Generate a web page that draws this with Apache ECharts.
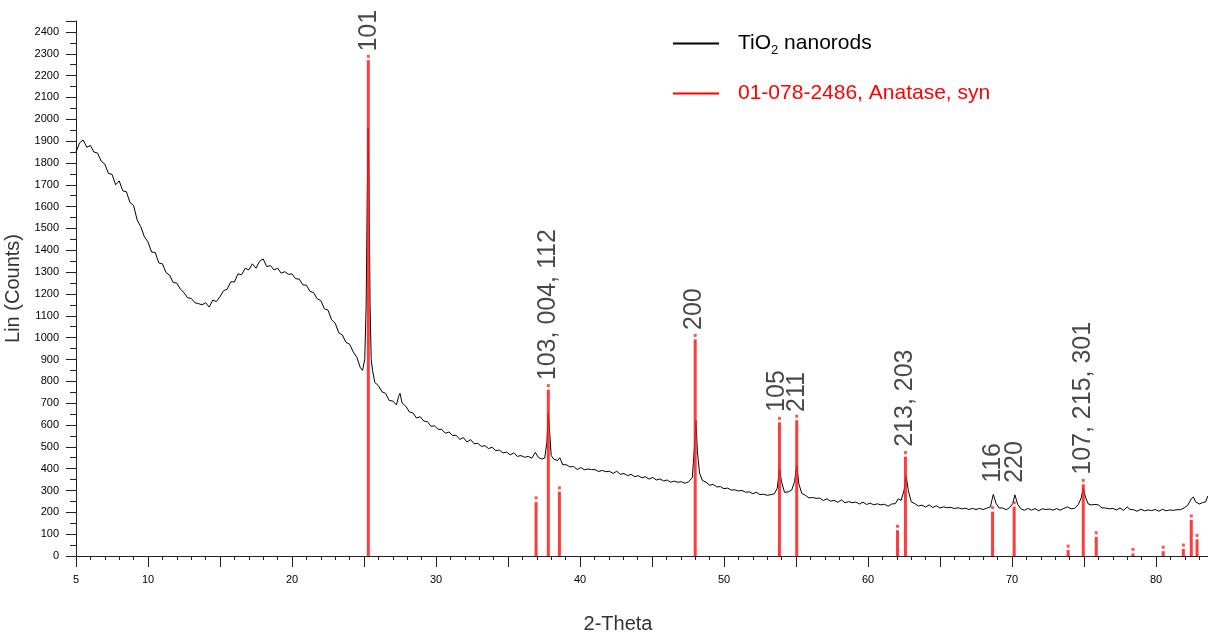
<!DOCTYPE html>
<html>
<head>
<meta charset="utf-8">
<script src="https://cdn.jsdelivr.net/npm/echarts@6/dist/echarts.min.js"></script>
<style>html,body{margin:0;padding:0;background:#fff;}#chart{width:1208px;height:634px;}</style>
</head>
<body>
<div id="chart"></div>
<script>
// Measured XRD pattern of TiO2 nanorods (2-Theta, counts)
const scanTheta = [
5.0,5.25,5.5,5.75,6.0,6.25,6.5,6.75,7.0,7.25,7.5,7.75,8.0,8.25,8.5,8.75,9.0,9.25,9.5,9.75,
10.0,10.25,10.5,10.75,11.0,11.25,11.5,11.75,12.0,12.25,12.5,12.75,13.0,13.25,13.5,13.75,14.0,14.25,14.5,14.75,
15.0,15.25,15.5,15.75,16.0,16.25,16.5,16.75,17.0,17.25,17.5,17.75,18.0,18.25,18.5,18.75,19.0,19.25,19.5,19.75,
20.0,20.25,20.5,20.75,21.0,21.25,21.5,21.75,22.0,22.25,22.5,22.75,23.0,23.25,23.5,23.75,24.0,24.25,24.5,24.75,
24.9,25.05,25.15,25.22,25.28,25.35,25.42,25.5,25.6,25.75,26.0,26.25,26.5,26.75,27.0,27.25,27.4,27.5,27.65,27.9,
28.15,28.4,28.65,28.9,29.15,29.4,29.65,29.9,30.15,30.4,30.65,30.9,31.15,31.4,31.65,31.9,32.15,32.4,32.65,32.9,
33.15,33.4,33.65,33.9,34.15,34.4,34.65,34.9,35.15,35.4,35.65,35.9,36.15,36.4,36.65,36.9,37.1,37.35,37.55,37.7,
37.8,37.9,38.0,38.2,38.45,38.6,38.8,39.05,39.3,39.55,39.8,40.05,40.3,40.55,40.8,41.05,41.3,41.55,41.8,42.05,
42.3,42.55,42.8,43.05,43.3,43.55,43.8,44.05,44.3,44.55,44.8,45.05,45.3,45.55,45.8,46.05,46.3,46.55,46.8,47.05,
47.3,47.55,47.8,47.95,48.05,48.15,48.3,48.5,48.75,49.0,49.25,49.5,49.75,50.0,50.25,50.5,50.75,51.0,51.25,51.5,
51.75,52.0,52.25,52.5,52.75,53.0,53.25,53.5,53.7,53.85,54.0,54.2,54.45,54.7,54.9,55.05,55.2,55.4,55.65,55.9,
56.15,56.4,56.65,56.9,57.15,57.4,57.65,57.9,58.15,58.4,58.65,58.9,59.15,59.4,59.65,59.9,60.15,60.4,60.65,60.9,
61.15,61.4,61.65,61.9,62.1,62.3,62.5,62.65,62.8,63.0,63.25,63.5,63.75,64.0,64.25,64.5,64.75,65.0,65.25,65.5,
65.75,66.0,66.25,66.5,66.75,67.0,67.25,67.5,67.75,68.0,68.25,68.5,68.7,68.9,69.1,69.35,69.6,69.85,70.05,70.2,
70.4,70.6,70.85,71.1,71.35,71.6,71.85,72.1,72.35,72.6,72.85,73.1,73.35,73.6,73.85,74.1,74.35,74.6,74.8,74.95,
75.1,75.3,75.5,75.75,76.0,76.25,76.5,76.75,77.0,77.25,77.5,77.75,78.0,78.2,78.45,78.7,78.95,79.2,79.45,79.7,
79.95,80.2,80.45,80.7,80.95,81.2,81.45,81.7,81.95,82.2,82.45,82.6,82.75,83.0,83.25,83.45,83.6
];
const scanCounts = [
1850,1892,1905,1872,1880,1850,1845,1808,1795,1752,1748,1700,1718,1672,1668,1618,1605,1538,1508,1462,
1438,1392,1390,1342,1338,1298,1286,1252,1250,1222,1206,1182,1180,1160,1156,1150,1160,1140,1172,1165,
1188,1215,1222,1256,1255,1292,1288,1318,1310,1338,1318,1350,1360,1325,1330,1310,1318,1295,1302,1290,
1292,1270,1268,1242,1240,1212,1206,1178,1170,1132,1126,1082,1066,1022,1012,978,970,935,910,862,
850,900,1150,1600,1960,1700,1150,900,848,795,780,752,745,712,710,692,730,745,700,686,
660,655,632,638,618,615,594,596,580,580,562,568,552,553,534,542,522,533,514,516,
502,505,492,498,482,485,472,476,463,472,456,460,452,456,448,475,452,444,448,520,
655,560,460,442,438,450,418,418,408,410,396,405,395,398,396,395,387,392,386,388,
378,388,374,378,368,374,363,368,358,363,352,360,348,353,344,348,338,343,338,340,
333,340,360,500,620,480,380,346,338,324,328,316,318,308,311,302,303,298,300,292,
294,285,292,281,283,278,281,285,310,395,340,292,293,302,340,415,330,287,278,266,
268,264,265,254,262,251,255,246,257,244,249,244,247,238,247,236,242,234,239,234,
237,228,238,240,262,255,300,365,300,248,240,229,233,224,234,222,230,220,225,221,
223,217,221,216,219,213,218,213,218,213,219,225,282,240,220,220,212,222,240,280,
236,217,209,218,210,217,207,216,213,215,210,217,210,218,225,216,218,235,265,310,
270,238,234,236,234,220,220,216,218,211,220,209,225,213,212,205,214,207,211,208,
213,205,214,207,211,209,212,212,220,232,262,270,248,238,245,248,275
];
// Reference pattern 01-078-2486, Anatase, syn (stick positions / intensities)
const refTheta = [25.3,36.95,37.8,38.57,48.0,53.85,55.05,62.05,62.6,68.65,70.15,73.9,74.95,75.85,78.4,80.5,81.9,82.45,82.85];
const refCounts = [2270,248,762,294,992,612,622,118,455,203,226,27,328,88,12,22,32,165,76];
// Miller-index annotations
const peakLabels = ['101','103, 004, 112','200','105','211','213, 203','116','220','107, 215, 301'];
const peakLabelTheta = [25.35,37.8,47.95,53.7,55.1,62.6,68.7,70.2,74.95];
const peakLabelCounts = [2310,805,1035,660,660,500,335,335,372];
// Axis ticks
const xTickLabels = [5,10,20,30,40,50,60,70,80];
const yTickStep = 100;

const seriesNames = ['TiO2 nanorods','01-078-2486, Anatase, syn'];
const seriesColors = ['#000000', '#ff0000'];
const font = '"Liberation Sans", Arial, sans-serif';

const chart = echarts.init(document.getElementById('chart'));
chart.setOption({
  animation: false,
  backgroundColor: '#fff',
  textStyle: {fontFamily: font},
  grid: {left: 76, right: -20, top: 21, bottom: 78, containLabel: false, outerBoundsMode: 'none'},
  legend: {
    left: 668, top: 28, orient: 'vertical', itemGap: 26,
    itemWidth: 46, itemHeight: 2,
    data: [
      {name: seriesNames[0], icon: 'rect', textStyle: {color: seriesColors[0]},
        itemStyle: {color: seriesColors[0], opacity: 1, borderWidth: 0}},
      {name: seriesNames[1], icon: 'rect', textStyle: {color: seriesColors[1]},
        itemStyle: {color: seriesColors[1], opacity: 1, borderWidth: 0, decal: 'none'}}
    ],
    textStyle: {fontSize: 21, fontFamily: font, padding: [0,0,0,14],
      rich: {sub: {fontSize: 13, padding: [14,0,0,0], fontFamily: font}}},
    formatter: n => n === seriesNames[0] ? 'TiO{sub|2} nanorods' : n
  },
  xAxis: {
    type: 'value', min: 5, max: 85, interval: 5,
    name: '2-Theta', nameLocation: 'middle', nameGap: 58,
    nameTextStyle: {fontSize: 20, color: '#333', fontFamily: font, padding: [0,68,0,0]},
    axisLine: {lineStyle: {color: '#222', width: 1}},
    axisTick: {length: 11, lineStyle: {color: '#222'}},
    minorTick: {show: true, splitNumber: 5, length: 4, lineStyle: {color: '#222'}},
    splitLine: {show: false},
    axisLabel: {fontSize: 11, color: '#000', margin: 18, fontFamily: font,
      formatter: v => xTickLabels.indexOf(v) >= 0 ? String(v) : ''}
  },
  yAxis: {
    type: 'value', min: 0, max: 2450, interval: yTickStep,
    name: 'Lin (Counts)', nameLocation: 'middle', nameGap: 45,
    nameTextStyle: {fontSize: 20, color: '#333', fontFamily: font},
    axisLine: {show: true, lineStyle: {color: '#222', width: 1}},
    axisTick: {show: true, length: 10, lineStyle: {color: '#222'}},
    minorTick: {show: true, splitNumber: 2, length: 6, lineStyle: {color: '#222'}},
    splitLine: {show: false},
    axisLabel: {fontSize: 11, color: '#000', margin: 17, fontFamily: font, showMaxLabel: false,
      formatter: v => String(v)}
  },
  series: [
    {
      name: seriesNames[0], type: 'line', symbol: 'none', z: 2,
      data: scanTheta.map((t, i) => [t, scanCounts[i]]),
      lineStyle: {color: seriesColors[0], width: 1}, itemStyle: {color: seriesColors[0]}
    },
    {
      name: seriesNames[1], type: 'bar', barWidth: 3, z: 3,
      data: refTheta.map((t, i) => [t, refCounts[i]]),
      itemStyle: {color: '#ff1a1a', opacity: 0.85}
    },
    {
      name: seriesNames[1], type: 'scatter', symbol: 'rect', symbolSize: 3, symbolOffset: [0, -4], z: 4,
      data: refTheta.map((t, i) => [t, refCounts[i]]),
      itemStyle: {color: '#ff2a2a'}
    },
    {
      name: 'labels', type: 'scatter', symbolSize: 0, z: 5, silent: true,
      data: peakLabels.map((s, i) => ({value: [peakLabelTheta[i], peakLabelCounts[i]], name: s})),
      label: {show: true, position: 'inside', rotate: 90, align: 'left', verticalAlign: 'middle',
        formatter: p => p.name, fontSize: 25, color: '#1a1a1a', fontFamily: font}
    }
  ]
});
</script>
</body>
</html>
